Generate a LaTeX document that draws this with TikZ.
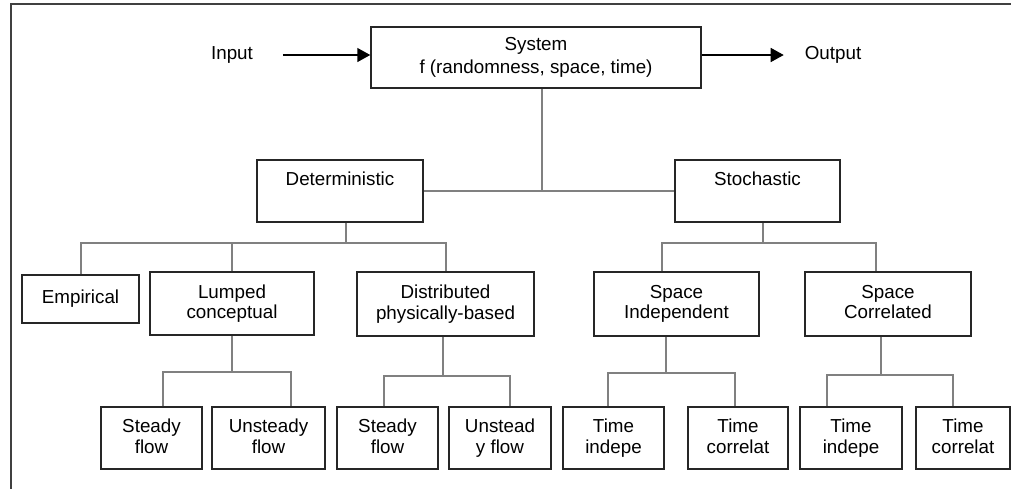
\documentclass[tikz,border=0pt]{standalone}
\usepackage{fontspec}
\setmainfont{Liberation Sans}
\usetikzlibrary{arrows.meta, positioning, calc}

\begin{document}
\begin{tikzpicture}[
    x=0.5pt, y=-0.5pt,
    font=\fontsize{9.4pt}{10.3pt}\selectfont,
    box/.style={rectangle, draw=black!85, line width=0.75pt, inner sep=0pt, align=center, minimum height=31pt,
        execute at begin node=\vphantom{Ay}, execute at end node=\vphantom{Ay}},
    link/.style={draw=black!50, line width=1pt},
    arrow/.style={-{Triangle[length=6.5pt, width=7pt]}, line width=0.75pt, draw=black}
]

\useasboundingbox (0,0) rectangle (1011,489);
\draw[black!75, line width=0.75pt] (1011,4) -- (11,4) -- (11,489);

% top level
\node[box, minimum width=165pt, minimum height=30.5pt, font=\fontsize{9.4pt}{11.5pt}\selectfont] (system) at (536,57.5) {System\\f (randomness, space, time)};
\node (input) at (232,55) {Input};
\node (output) at (833,55) {Output};

\node[box, minimum width=83pt] (det) at (340,191) {Deterministic\\~};
\node[box, minimum width=82.5pt] (sto) at (757.5,191) {Stochastic\\~};

% second level
\node[box, minimum width=58.5pt, minimum height=24pt] (emp) at (80.5,299) {Empirical};
\node[box, minimum width=82pt, minimum height=31.5pt] (lump) at (232,303.5) {Lumped\\conceptual};
\node[box, minimum width=88.5pt, minimum height=32pt] (dist) at (445.5,304) {Distributed\\physically-based};
\node[box, minimum width=82.5pt, minimum height=32pt] (spi) at (676.5,304) {Space\\Independent};
\node[box, minimum width=83pt, minimum height=32pt] (spc) at (888,304) {Space\\Correlated};

% third level
\node[box, minimum width=50.5pt] (st1) at (151.5,438) {Steady\\flow};
\node[box, minimum width=56.5pt] (ust1) at (268.5,438) {Unsteady\\flow};
\node[box, minimum width=50.5pt] (st2) at (387.5,438) {Steady\\flow};
\node[box, minimum width=51pt] (ust2) at (500,438) {Unstead\\y flow};
\node[box, minimum width=50.5pt] (ti1) at (613.5,438) {Time\\indepe};
\node[box, minimum width=50pt] (tc1) at (738,438) {Time\\correlat};
\node[box, minimum width=51pt] (ti2) at (851,438) {Time\\indepe};
\node[box, minimum width=47pt] (tc2) at (963,438) {Time\\correlat};

% input / output
\draw[arrow, shorten <=11.5pt] (input.east) -- (input.east -| system.west);
\draw[arrow, shorten >=7pt] (system.east |- output.west) -- (output.west);

% tree links
\path ([xshift=3pt]system.south) coordinate (sysdrop);
\draw[link] (sysdrop) -- (sysdrop |- det.east);
\draw[link] (det.east) -- (sto.west);

\draw[link] ([xshift=3pt]det.south) -- ++(0,20) coordinate (detbus);
\draw[link] (emp.north) |- (detbus) -| (dist.north);
\draw[link] (lump.north) -- (lump.north |- detbus);

\draw[link] ([xshift=2.75pt]sto.south) -- ++(0,20) coordinate (stobus);
\draw[link] ([xshift=-7.25pt]spi.north) |- (stobus) -| ([xshift=-6pt]spc.north);

\draw[link] (lump.south) -- ++(0,36) coordinate (lumpbus);
\draw[link] ([xshift=5.75pt]st1.north) |- (lumpbus) -| ([xshift=11.25pt]ust1.north);

\draw[link] ([xshift=-1.25pt]dist.south) -- ++(0,39) coordinate (distbus);
\draw[link] ([xshift=-1.75pt]st2.north) |- (distbus) -| ([xshift=5pt]ust2.north);

\draw[link] ([xshift=-5.25pt]spi.south) -- ++(0,36) coordinate (spibus);
\draw[link] ([xshift=-2.75pt]ti1.north) |- (spibus) -| ([xshift=-1.5pt]tc1.north);

\draw[link] ([xshift=-3.5pt]spc.south) -- ++(0,38) coordinate (spcbus);
\draw[link] ([xshift=-12pt]ti2.north) |- (spcbus) -| ([xshift=-5pt]tc2.north);

\end{tikzpicture}
\end{document}
